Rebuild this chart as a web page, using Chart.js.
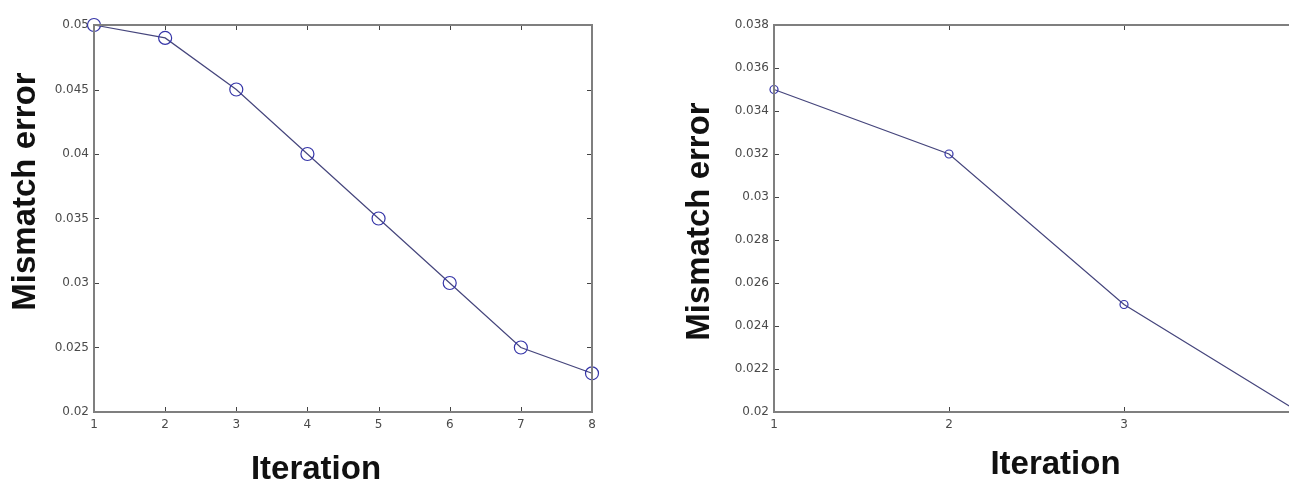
<!DOCTYPE html>
<html>
<head>
<meta charset="utf-8">
<script src="https://cdn.jsdelivr.net/npm/chart.js@4/dist/chart.umd.min.js"></script>
<style>
  html, body { margin: 0; padding: 0; background: #fff; overflow: hidden; }
  #wrap { position: relative; width: 1289px; height: 487px; overflow: hidden; }
  .box { position: absolute; top: 0; height: 487px; }
  #leftBox { left: 0; width: 620px; }
  #rightBox { left: 680px; width: 640px; }
</style>
</head>
<body>
<div id="wrap">
  <div class="box" id="leftBox"><canvas id="leftChart" width="620" height="487"></canvas></div>
  <div class="box" id="rightBox"><canvas id="rightChart" width="640" height="487"></canvas></div>
</div>
<script>
// left panel
var leftIterations = [1, 2, 3, 4, 5, 6, 7, 8];
var leftError = [0.05, 0.049, 0.045, 0.04, 0.035, 0.03, 0.025, 0.023];
var leftYTicks = [0.02, 0.025, 0.03, 0.035, 0.04, 0.045, 0.05];
var leftXTicks = [1, 2, 3, 4, 5, 6, 7, 8];

// right panel (cut off at the right edge in the original)
var rightIterations = [1, 2, 3, 4];
var rightError = [0.035, 0.032, 0.025, 0.02];
var rightYTicks = [0.02, 0.022, 0.024, 0.026, 0.028, 0.03, 0.032, 0.034, 0.036, 0.038];
var rightXTicks = [1, 2, 3, 4];

var xTitle = 'Iteration';
var yTitle = 'Mismatch error';

// matlab style frame: box round the axes and ticks pointing inward
var matlabBox = {
  id: 'matlabBox',
  afterDraw: function(chart) {
    var ctx = chart.ctx;
    var a = chart.chartArea;
    var xs = chart.scales.x, ys = chart.scales.y;
    var len = 5;
    ctx.save();
    ctx.strokeStyle = '#444';
    ctx.lineWidth = 1;
    ctx.beginPath();
    xs.ticks.forEach(function(t) {
      var px = Math.round(xs.getPixelForValue(t.value)) + 0.5;
      ctx.moveTo(px, a.bottom); ctx.lineTo(px, a.bottom - len);
      ctx.moveTo(px, a.top); ctx.lineTo(px, a.top + len);
    });
    ys.ticks.forEach(function(t) {
      var py = Math.round(ys.getPixelForValue(t.value)) + 0.5;
      ctx.moveTo(a.left, py); ctx.lineTo(a.left + len, py);
      ctx.moveTo(a.right, py); ctx.lineTo(a.right - len, py);
    });
    ctx.stroke();
    ctx.strokeStyle = '#7f7f7f';
    ctx.lineWidth = 2;
    ctx.strokeRect(Math.round(a.left), Math.round(a.top), Math.round(a.right - a.left), Math.round(a.bottom - a.top));
    ctx.restore();
  }
};

// axis labels, placed like the original (not quite centred on the plot)
var axisTitles = {
  id: 'axisTitles',
  afterDraw: function(chart, args, opts) {
    var ctx = chart.ctx;
    var a = chart.chartArea;
    ctx.save();
    ctx.fillStyle = '#111';
    ctx.font = 'bold 33px "Liberation Sans", Arial, sans-serif';
    ctx.textAlign = 'center';
    ctx.textBaseline = 'middle';
    ctx.fillText(xTitle, (a.left + a.right) / 2 + opts.xdx, opts.xy);
    ctx.translate(opts.yx, (a.top + a.bottom) / 2 + opts.ydy);
    ctx.rotate(-Math.PI / 2);
    ctx.fillText(yTitle, 0, 0);
    ctx.restore();
  }
};

function fmt(v) {
  return String(Number(v.toFixed(4)));
}

function makeChart(id, xs, ys, xTicks, yTicks, radius, padRight, titlePos) {
  var pts = xs.map(function(x, i) { return { x: x, y: ys[i] }; });
  return new Chart(document.getElementById(id), {
    type: 'line',
    data: {
      datasets: [{
        data: pts,
        borderColor: '#45457c',
        borderWidth: 1.2,
        pointRadius: radius,
        pointBorderColor: '#3535a8',
        pointBackgroundColor: 'rgba(0,0,0,0)',
        pointBorderWidth: 1.2,
        tension: 0,
        fill: false,
        clip: false
      }]
    },
    options: {
      responsive: false,
      animation: false,
      events: [],
      layout: { padding: { top: 25, right: padRight, left: 0, bottom: 0 } },
      plugins: { legend: { display: false }, tooltip: { enabled: false }, axisTitles: titlePos },
      scales: {
        x: {
          type: 'linear',
          min: xTicks[0],
          max: xTicks[xTicks.length - 1],
          afterBuildTicks: function(s) { s.ticks = xTicks.map(function(v) { return { value: v }; }); },
          afterFit: function(s) { s.height = 75; },
          grid: { display: false, drawTicks: false },
          border: { display: false },
          ticks: { color: '#4a4a4a', padding: 6, maxRotation: 0, font: { family: 'DejaVu Sans', size: 12 }, callback: fmt }
        },
        y: {
          min: yTicks[0],
          max: yTicks[yTicks.length - 1],
          afterBuildTicks: function(s) { s.ticks = yTicks.map(function(v) { return { value: v }; }); },
          afterFit: function(s) { s.width = 94; },
          grid: { display: false, drawTicks: false },
          border: { display: false },
          ticks: { color: '#4a4a4a', padding: 5, font: { family: 'DejaVu Sans', size: 12 }, callback: fmt }
        }
      }
    },
    plugins: [matlabBox, axisTitles]
  });
}

makeChart('leftChart', leftIterations, leftError, leftXTicks, leftYTicks, 6.5, 28,
  { xdx: -27, xy: 470, yx: 26, ydy: -27 });
makeChart('rightChart', rightIterations, rightError, rightXTicks, rightYTicks, 4, 21,
  { xdx: 19, xy: 465, yx: 20, ydy: 3 });
</script>
</body>
</html>
